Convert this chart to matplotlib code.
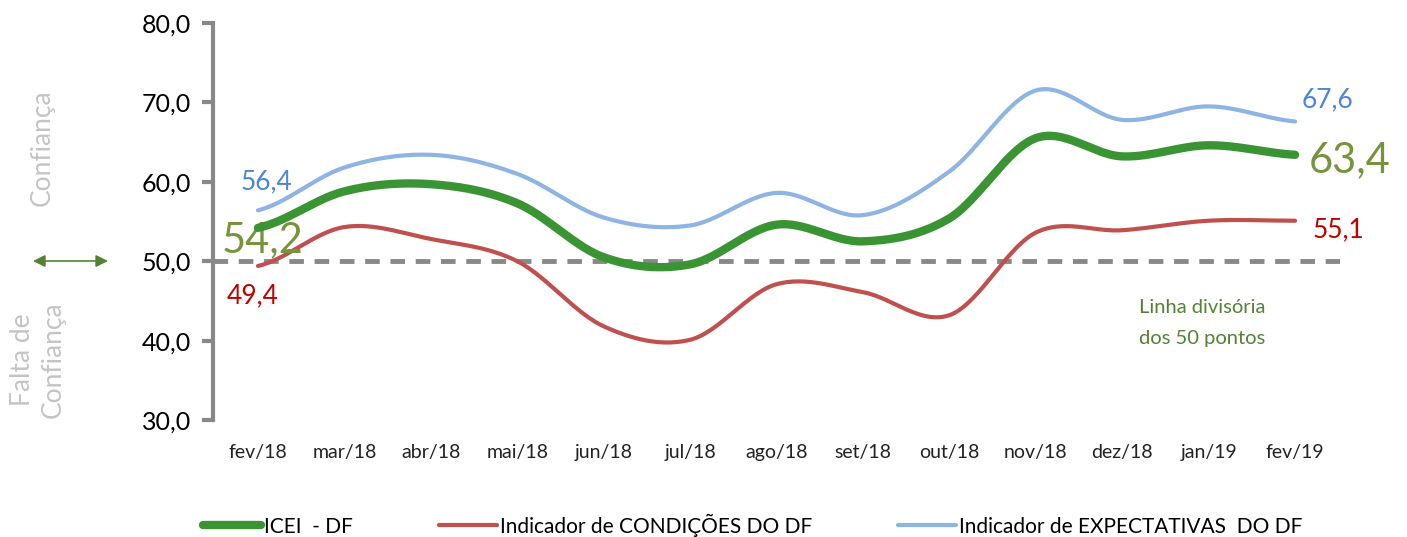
import numpy as np
import matplotlib.pyplot as plt

months = ['fev/18', 'mar/18', 'abr/18', 'mai/18', 'jun/18', 'jul/18', 'ago/18',
          'set/18', 'out/18', 'nov/18', 'dez/18', 'jan/19', 'fev/19']
icei = [54.2, 58.8, 59.7, 57.3, 50.5, 49.6, 54.6, 52.5, 55.4, 65.5, 63.2, 64.6, 63.4]
condicoes = [49.4, 54.3, 52.8, 50.0, 41.8, 40.1, 47.1, 46.1, 43.2, 53.6, 53.9, 55.1, 55.1]
expectativas = [56.4, 61.8, 63.4, 61.0, 55.5, 54.5, 58.6, 55.8, 61.3, 71.5, 67.8, 69.5, 67.6]

plt.rcParams['font.family'] = ['Lato', 'DejaVu Sans']


def smooth(y, n=30):
    # catmull-rom, like the excel "smoothed line"
    y = np.asarray(y, dtype=float)
    x = np.arange(len(y), dtype=float)
    p = np.concatenate([[y[0]], y, [y[-1]]])
    xs, ys = [], []
    t = np.linspace(0, 1, n, endpoint=False)
    for i in range(len(y) - 1):
        p0, p1, p2, p3 = p[i], p[i + 1], p[i + 2], p[i + 3]
        yy = 0.5 * ((2 * p1) + (-p0 + p2) * t + (2 * p0 - 5 * p1 + 4 * p2 - p3) * t**2
                    + (-p0 + 3 * p1 - 3 * p2 + p3) * t**3)
        xs.append(x[i] + t)
        ys.append(yy)
    xs.append([x[-1]])
    ys.append([y[-1]])
    return np.concatenate(xs), np.concatenate(ys)


fig = plt.figure(figsize=(14.07, 5.37), dpi=100)
ax = fig.add_axes([213 / 1407, 117 / 537, 1127 / 1407, 397 / 537])

c_green, c_red, c_blue = '#3a9434', '#c0504d', '#8db4e2'

ax.axhline(50, color='#888888', lw=3.5, ls=(0, (3, 2.2)), zorder=1)
x, y = smooth(icei)
ax.plot(x, y, color=c_green, lw=6, solid_capstyle='round', label='ICEI  - DF', zorder=4)
x, y = smooth(condicoes)
ax.plot(x, y, color=c_red, lw=3, solid_capstyle='round', label='Indicador de CONDIÇÕES DO DF', zorder=3)
x, y = smooth(expectativas)
ax.plot(x, y, color=c_blue, lw=3, solid_capstyle='round', label='Indicador de EXPECTATIVAS  DO DF', zorder=3)

ax.set_xlim(-0.52, 12.52)
ax.set_ylim(30, 80)
ax.set_yticks(np.arange(30, 81, 10))
ax.set_yticklabels([f'{v:.1f}'.replace('.', ',') for v in np.arange(30, 81, 10)], fontsize=18)
ax.set_xticks(range(len(months)))
ax.set_xticklabels(months, fontsize=14, color='#222222')
ax.tick_params(axis='x', length=0, pad=17)
ax.tick_params(axis='y', length=8, width=3, color='#888888', pad=8)
for s in ['top', 'right', 'bottom']:
    ax.spines[s].set_visible(False)
ax.spines['left'].set_color('#888888')
ax.spines['left'].set_linewidth(3)

# value labels
fmt = lambda v: f'{v:.1f}'.replace('.', ',')
ax.text(0.1, 60.0, fmt(expectativas[0]), color='#4a86d4', fontsize=19, ha='center', va='center')
ax.text(0.05, 52.7, fmt(icei[0]), color='#77933c', fontsize=30, ha='center', va='center')
ax.text(-0.06, 45.7, fmt(condicoes[0]), color='#c00000', fontsize=19, ha='center', va='center')
ax.text(12.38, 70.3, fmt(expectativas[-1]), color='#4a86d4', fontsize=19, ha='center', va='center')
ax.text(12.63, 62.75, fmt(icei[-1]), color='#77933c', fontsize=30, ha='center', va='center')
ax.text(12.5, 53.9, fmt(condicoes[-1]), color='#c00000', fontsize=19, ha='center', va='center')

ax.text(10.93, 44.2, 'Linha divisória', color='#548235', fontsize=14.5, ha='center', va='center')
ax.text(10.93, 40.3, 'dos 50 pontos', color='#548235', fontsize=14.5, ha='center', va='center')

# left side notes
fig.text(42 / 1407, 1 - 148 / 537, 'Confiança', rotation=90, color='#c4c4c4', fontsize=19,
         ha='center', va='center')
fig.text(38 / 1407, 1 - 360 / 537, 'Falta de\nConfiança', rotation=90, color='#c4c4c4', fontsize=19,
         ha='center', va='center', linespacing=1.3)
fig.add_artist(plt.Annotation('', xy=(108 / 1407, 1 - 261 / 537), xytext=(33 / 1407, 1 - 261 / 537),
                              xycoords='figure fraction', textcoords='figure fraction',
                              arrowprops=dict(arrowstyle='<|-|>', color='#548235', lw=1.2,
                                              mutation_scale=18, shrinkA=0, shrinkB=0)))

fig.legend(loc='center', bbox_to_anchor=(0.535, 1 - 525 / 537), ncol=3, frameon=False,
           fontsize=15, handlelength=2.8, handletextpad=0.15, columnspacing=4.1)

fig.savefig('out.png', dpi=100)
